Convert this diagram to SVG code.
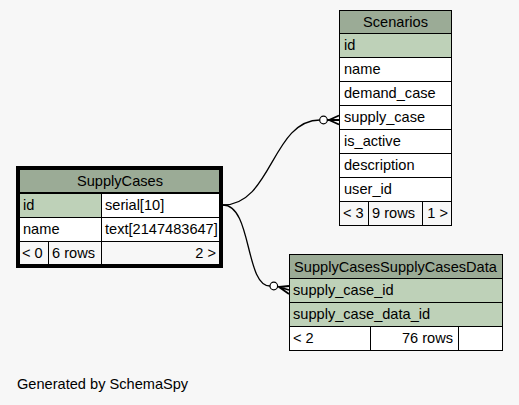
<svg xmlns="http://www.w3.org/2000/svg" width="519" height="405" viewBox="0 0 519 405">
<style>
text{font-family:"Liberation Sans",Arial,sans-serif;font-size:14.6px;fill:#000}
.c{text-anchor:middle}
.r{text-anchor:end}
.hd{fill:#9bab96;stroke:#000;stroke-width:1}
.pk{fill:#bed1b8;stroke:#000;stroke-width:1}
.rw{fill:#fff;stroke:#000;stroke-width:1}
.ft{fill:#f7f7f7;stroke:#000;stroke-width:1}
.ln{fill:none;stroke:#000;stroke-width:1.3}
.cr{fill:none;stroke:#000;stroke-width:1.8}
</style>
<rect width="519" height="405" fill="#f7f7f7"/>
<g id="connectors">
<path class="ln" d="M223,205 C272,205 272,120 320,120"/>
<circle cx="323.5" cy="120" r="3.8" fill="#fff" stroke="#000" stroke-width="1.2"/>
<path class="cr" d="M327,120 L339,120 M329,120 L339,115.5 M329,120 L339,124.5"/>
<path class="ln" d="M223,205 C252,205 245,286 270,286"/>
<circle cx="273.8" cy="286" r="3.8" fill="#fff" stroke="#000" stroke-width="1.2"/>
<path class="cr" d="M277.5,286.5 L289,290 M279,287 L289,286 M279,287 L289,294"/>
</g>
<g id="Scenarios">
<rect class="hd" x="339.5" y="10.5" width="112" height="23"/>
<text class="c" x="395.5" y="26.5">Scenarios</text>
<rect class="pk" x="339.5" y="33.5" width="112" height="24"/>
<text x="344" y="50">id</text>
<rect class="rw" x="339.5" y="57.5" width="112" height="24"/>
<text x="344" y="74">name</text>
<rect class="rw" x="339.5" y="81.5" width="112" height="24"/>
<text x="344" y="98">demand_case</text>
<rect class="rw" x="339.5" y="105.5" width="112" height="24"/>
<text x="344" y="122">supply_case</text>
<rect class="rw" x="339.5" y="129.5" width="112" height="24"/>
<text x="344" y="146">is_active</text>
<rect class="rw" x="339.5" y="153.5" width="112" height="24"/>
<text x="344" y="170">description</text>
<rect class="rw" x="339.5" y="177.5" width="112" height="24"/>
<text x="344" y="194">user_id</text>
<rect class="ft" x="339.5" y="201.5" width="29" height="24"/>
<rect class="ft" x="368.5" y="201.5" width="54" height="24"/>
<rect class="ft" x="422.5" y="201.5" width="29" height="24"/>
<text x="343" y="218">&lt; 3</text>
<text x="372" y="218">9 rows</text>
<text class="r" x="448" y="218">1 &gt;</text>
</g>
<g id="SupplyCases">
<rect x="17.5" y="167.5" width="204" height="99" fill="none" stroke="#000" stroke-width="3"/>
<rect class="hd" x="19.5" y="169.5" width="200" height="23"/>
<text class="c" x="120" y="186">SupplyCases</text>
<rect class="pk" x="19.5" y="193.5" width="82" height="24"/>
<text x="23" y="210">id</text>
<rect class="rw" x="101.5" y="193.5" width="118" height="24"/>
<text x="105" y="210">serial[10]</text>
<rect class="rw" x="19.5" y="217.5" width="82" height="24"/>
<text x="23" y="234">name</text>
<rect class="rw" x="101.5" y="217.5" width="118" height="24"/>
<text x="105" y="234">text[2147483647]</text>
<rect class="ft" x="19.5" y="241.5" width="29" height="23"/>
<rect class="ft" x="48.5" y="241.5" width="53" height="23"/>
<rect class="ft" x="101.5" y="241.5" width="118" height="23"/>
<text x="22" y="258">&lt; 0</text>
<text x="52" y="258">6 rows</text>
<text class="r" x="216" y="258">2 &gt;</text>
</g>
<g id="SupplyCasesSupplyCasesData">
<rect class="hd" x="289.5" y="254.5" width="213" height="24"/>
<text class="c" x="395.5" y="272">SupplyCasesSupplyCasesData</text>
<rect class="pk" x="289.5" y="278.5" width="213" height="24"/>
<text x="293" y="295">supply_case_id</text>
<rect class="pk" x="289.5" y="302.5" width="213" height="24"/>
<text x="293" y="319">supply_case_data_id</text>
<rect class="rw" x="289.5" y="326.5" width="81" height="24"/>
<rect class="rw" x="370.5" y="326.5" width="88" height="24"/>
<rect class="rw" x="458.5" y="326.5" width="44" height="24"/>
<text x="293" y="343">&lt; 2</text>
<text class="r" x="453" y="343">76 rows</text>
</g>
<text x="17" y="389">Generated by SchemaSpy</text>
</svg>
